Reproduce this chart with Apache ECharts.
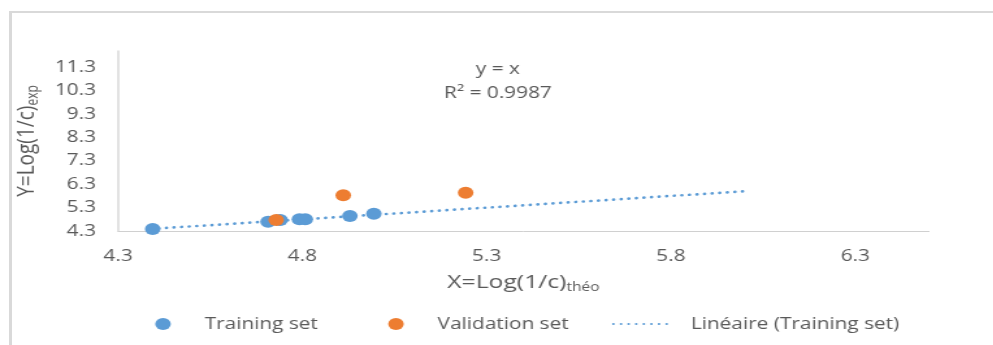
<!DOCTYPE html>
<html>
<head>
<meta charset="utf-8">
<script src="https://cdn.jsdelivr.net/npm/echarts@6/dist/echarts.min.js"></script>
<style>
  html, body { margin: 0; padding: 0; background: #ffffff; overflow: hidden; width: 993px; height: 345px; }
  #frame { position: absolute; left: 9px; top: 11px; width: 984px; height: 334px;
           border-left: 3px solid #d9d9d9; border-top: 2px solid #d9d9d9; box-sizing: border-box; }
  #c { position: absolute; left: 0; top: 0; width: 764px; height: 345px;
       transform: scaleX(1.3); transform-origin: 0 0; }
</style>
</head>
<body>
<div id="frame"></div>
<div id="c"></div>
<script>
// ---- data ----
const trainingX = [4.394, 4.707, 4.740, 4.792, 4.808, 4.929, 4.994];
const trainingY = [4.39, 4.70, 4.77, 4.80, 4.80, 4.94, 5.04];
const validationX = [4.729, 4.911, 5.243];
const validationY = [4.77, 5.83, 5.94];
const trendX = [4.39, 6.0];
const trendY = [4.39, 6.0];
const xTicks = [4.3, 4.8, 5.3, 5.8, 6.3];
const yTicks = [4.3, 5.3, 6.3, 7.3, 8.3, 9.3, 10.3, 11.3];
const seriesNames = ['Training set', 'Validation set', 'Linéaire (Training set)'];
const equationText = ['y = x', 'R² = 0.9987'];

const zip = (a, b) => a.map((v, i) => [v, b[i]]);
const FONT = 'Open Sans';
const TXT = '#595959';
const BLUE = '#5B9BD5';
const ORANGE = '#ED7D31';

const chart = echarts.init(document.getElementById('c'), null, { renderer: 'canvas' });
chart.setOption({
  animation: false,
  textStyle: { fontFamily: FONT },
  title: {
    text: equationText.join('\n'),
    left: 378, top: 52, textAlign: 'center',
    textStyle: { fontFamily: FONT, fontSize: 16, fontWeight: 'normal', color: TXT, lineHeight: 24 }
  },
  grid: { left: 90.8, right: 49.4, top: 51, bottom: 114, containLabel: false, outerBoundsMode: 'none' },
  xAxis: {
    type: 'value', min: 4.3, max: 6.5,
    name: '{m|X=Log(1/c)}{s|théo}', nameLocation: 'middle', nameGap: 41,
    nameTextStyle: { rich: {
      m: { fontFamily: FONT, fontSize: 19, color: TXT },
      s: { fontFamily: FONT, fontSize: 12, color: TXT, padding: [10, 0, 0, 0] }
    } },
    axisLine: { show: true, lineStyle: { color: '#d0d0d0', width: 1 } },
    axisTick: { show: false },
    splitLine: { show: false },
    axisLabel: { customValues: xTicks, margin: 17, fontFamily: FONT, fontSize: 16, color: TXT,
                 formatter: v => Number(v).toFixed(1) }
  },
  yAxis: {
    type: 'value', min: 4.3, max: 12,
    name: '{m|Y=Log(1/c)}{s|exp}', nameLocation: 'middle', nameRotate: 90, nameGap: 42,
    nameTextStyle: { rich: {
      m: { fontFamily: FONT, fontSize: 19, color: TXT },
      s: { fontFamily: FONT, fontSize: 12, color: TXT, padding: [10, 0, 0, 0] }
    } },
    axisLine: { show: true, lineStyle: { color: '#d9d9d9', width: 1.5 } },
    axisTick: { show: false },
    splitLine: { show: false },
    axisLabel: { customValues: yTicks, margin: 17, fontFamily: FONT, fontSize: 16, color: TXT,
                 formatter: v => Number(v).toFixed(1) }
  },
  legend: [
    { data: [seriesNames[0]], left: 119.4, top: 316, padding: 0, itemWidth: 12, itemHeight: 12,
      textStyle: { fontFamily: FONT, fontSize: 16, color: TXT, padding: [0, 0, 0, 21] } },
    { data: [seriesNames[1]], left: 298.6, top: 316, padding: 0, itemWidth: 12, itemHeight: 12,
      textStyle: { fontFamily: FONT, fontSize: 16, color: TXT, padding: [0, 0, 0, 21] } },
    { data: [seriesNames[2]], left: 470.8, top: 316, padding: 0, itemWidth: 44.6, itemHeight: 12,
      itemStyle: { opacity: 0 },
      textStyle: { fontFamily: FONT, fontSize: 16, color: TXT, padding: [0, 0, 0, 10] } }
  ],
  series: [
    {
      name: seriesNames[2], type: 'line', data: zip(trendX, trendY),
      symbol: 'none', z: 1, silent: true,
      lineStyle: { color: BLUE, width: 2.7, type: [0.1, 5.75], cap: 'round' },
      itemStyle: { color: BLUE }
    },
    {
      name: seriesNames[0], type: 'scatter', data: zip(trainingX, trainingY),
      symbol: 'circle', symbolSize: 12, z: 3,
      itemStyle: { color: BLUE, opacity: 1 }
    },
    {
      name: seriesNames[1], type: 'scatter', data: zip(validationX, validationY),
      symbol: 'circle', symbolSize: 12, z: 3,
      itemStyle: { color: ORANGE, opacity: 1 }
    }
  ]
});
</script>
</body>
</html>
